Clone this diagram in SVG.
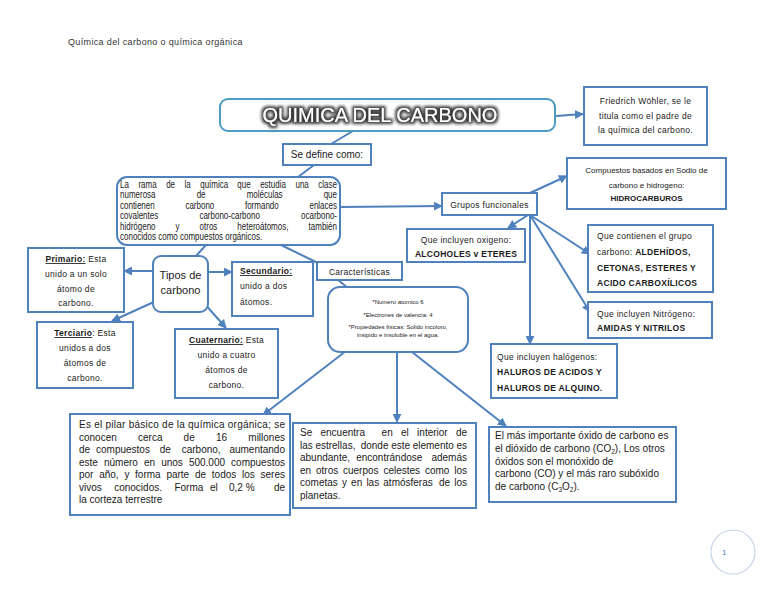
<svg xmlns="http://www.w3.org/2000/svg" width="768" height="594" viewBox="0 0 768 594">
<defs>
<marker id="ah" viewBox="0 0 10 10" refX="9" refY="5" markerWidth="4.5" markerHeight="4.5" orient="auto"><path d="M0,0L10,5L0,10z" fill="#4f81bd"/></marker>
<filter id="glow" x="-10%" y="-50%" width="120%" height="200%">
<feMorphology in="SourceAlpha" operator="dilate" radius="1.8" result="d"/>
<feGaussianBlur in="d" stdDeviation="1.4" result="b"/>
<feFlood flood-color="#3c3c3c"/>
<feComposite in2="b" operator="in" result="s"/>
<feMerge><feMergeNode in="s"/><feMergeNode in="SourceGraphic"/></feMerge>
</filter>
</defs>
<style>
.bx{fill:#fff;stroke:#4f81bd;stroke-width:2}
.cn{fill:none;stroke:#4f81bd;stroke-width:2}
.ar{marker-end:url(#ah)}
.a{font-family:"Liberation Sans",Arial,sans-serif;font-size:10px;fill:#1a1a1a}
.c{font-family:"Liberation Sans",Arial,sans-serif;font-size:8.5px;fill:#1a1a1a;letter-spacing:0.3px}
.m{text-anchor:middle}
.e{text-anchor:end}
.b{font-weight:bold}
.u{font-weight:bold;text-decoration:underline}
</style>
<rect width="768" height="594" fill="#fff"/>
<text x="68" y="45" class="a" style="font-size:9px;fill:#333;letter-spacing:0.35px">Química del carbono o química orgánica</text>

<g id="connectors">
<line class="cn ar" x1="556" y1="116" x2="583" y2="114"/>
<line class="cn" x1="353" y1="131" x2="331" y2="144"/>
<line class="cn" x1="314" y1="165" x2="298" y2="177"/>
<line class="cn ar" x1="341" y1="207" x2="442" y2="206"/>
<line class="cn ar" x1="530" y1="193" x2="567" y2="176"/>
<line class="cn ar" x1="528" y1="215" x2="508" y2="228"/>
<line class="cn ar" x1="530" y1="215" x2="590" y2="254"/>
<line class="cn ar" x1="530" y1="215" x2="590" y2="312"/>
<line class="cn ar" x1="530" y1="215" x2="530" y2="344"/>
<line class="cn" x1="206" y1="245" x2="196" y2="256"/>
<line class="cn ar" x1="153" y1="271" x2="124" y2="271"/>
<line class="cn ar" x1="208" y1="272" x2="232" y2="272"/>
<line class="cn ar" x1="156" y1="301" x2="112" y2="321"/>
<line class="cn ar" x1="204" y1="303" x2="226" y2="328"/>
<line class="cn" x1="281" y1="245" x2="320" y2="264"/>
<line class="cn" x1="338" y1="280" x2="348" y2="288"/>
<line class="cn ar" x1="346" y1="351" x2="263" y2="415"/>
<line class="cn ar" x1="397" y1="352" x2="397" y2="422"/>
<line class="cn ar" x1="412" y1="352" x2="506" y2="426"/>
</g>

<g id="titulo">
<rect x="220" y="99" width="335" height="32" rx="8" fill="#fff" stroke="#4a9cc0" stroke-width="2"/>
<text x="380" y="122" class="m" filter="url(#glow)" style="font-family:'Liberation Sans',Arial,sans-serif;font-size:20px;fill:#fff">QUIMICA DEL CARBONO</text>
</g>

<g id="wohler">
<rect class="bx" x="584" y="87" width="123" height="58"/>
<text class="c m" x="645.5" y="104">Friedrich Wöhler, se le</text>
<text class="c m" x="645.5" y="118.5">titula como el padre de</text>
<text class="c m" x="645.5" y="133">la química del carbono.</text>
</g>

<g id="se-define">
<rect class="bx" x="283" y="144" width="88" height="21"/>
<text class="a m" x="327" y="158">Se define como:</text>
</g>

<g id="definicion">
<rect class="bx" x="117" y="177" width="223" height="68" rx="10"/>
<g transform="matrix(0.8 0 0 1 120 0)" class="a">
<text y="188"><tspan x="0">La</tspan><tspan x="23">rama</tspan><tspan x="57.7">de</tspan><tspan x="80.7">la</tspan><tspan x="100.3">química</tspan><tspan x="146.6">que</tspan><tspan x="175.2">estudia</tspan><tspan x="219.3">una</tspan><tspan x="271.25" text-anchor="end">clase</tspan></text>
<text y="198.5"><tspan x="0">numerosa</tspan><tspan x="95.8">de</tspan><tspan x="158.3">moléculas</tspan><tspan x="271.25" text-anchor="end">que</tspan></text>
<text y="209"><tspan x="0">contienen</tspan><tspan x="81.8">carbono</tspan><tspan x="156.2">formando</tspan><tspan x="271.25" text-anchor="end">enlaces</tspan></text>
<text y="219.5"><tspan x="0">covalentes</tspan><tspan x="99.3">carbono-carbono</tspan><tspan x="271.25" text-anchor="end">ocarbono-</tspan></text>
<text y="230"><tspan x="0">hidrógeno</tspan><tspan x="69.5">y</tspan><tspan x="99.5">otros</tspan><tspan x="146.7">heteroátomos,</tspan><tspan x="271.25" text-anchor="end">también</tspan></text>
<text y="240.5" x="0">conocidos como compuestos orgánicos.</text>
</g>
</g>

<g id="grupos">
<rect class="bx" x="442" y="193" width="95" height="22"/>
<text class="c m" x="489.5" y="207.5">Grupos funcionales</text>
</g>

<g id="hidrocarburos">
<rect class="bx" x="567" y="158" width="159" height="51"/>
<text class="c m" x="646.5" y="173" style="font-size:8px;letter-spacing:0">Compuestos basados en Sodio de</text>
<text class="c m" x="646.5" y="187.5" style="font-size:8px;letter-spacing:0">carbono e hidrogeno:</text>
<text class="c m b" x="646.5" y="201" style="font-size:8px;letter-spacing:0">HIDROCARBUROS</text>
</g>

<g id="oxigeno">
<rect class="bx" x="407" y="229" width="118" height="33"/>
<text class="c m" x="466" y="243">Que incluyen oxigeno:</text>
<text class="c m b" x="466" y="257">ALCOHOLES  v ETERES</text>
</g>

<g id="carbonilo">
<rect class="bx" x="588" y="225" width="125" height="67"/>
<text class="c" x="597" y="239">Que contienen el grupo</text>
<text class="c" x="597" y="255">carbono: <tspan class="b">ALDEHÍDOS,</tspan></text>
<text class="c b" x="597" y="271">CETONAS, ESTERES Y</text>
<text class="c b" x="597" y="286">ACIDO CARBOXÍLICOS</text>
</g>

<g id="nitrogeno">
<rect class="bx" x="588" y="302" width="124" height="36"/>
<text class="c" x="597" y="317">Que incluyen Nitrógeno:</text>
<text class="c b" x="597" y="331">AMIDAS Y NITRILOS</text>
</g>

<g id="halogenos">
<rect class="bx" x="491" y="344" width="126" height="54"/>
<text class="c" x="497" y="360">Que incluyen halógenos:</text>
<text class="c b" x="497" y="375">HALUROS DE ACIDOS Y</text>
<text class="c b" x="497" y="391">HALUROS DE ALQUINO.</text>
</g>

<g id="tipos">
<rect class="bx" x="153" y="256" width="55" height="56" rx="8"/>
<text class="a m" x="180.5" y="279" style="font-size:11px">Tipos de</text>
<text class="a m" x="180.5" y="294" style="font-size:11px">carbono</text>
</g>

<g id="primario">
<rect class="bx" x="28" y="248" width="96" height="64"/>
<text class="c m" x="76" y="262"><tspan class="u">Primario:</tspan> Esta</text>
<text class="c m" x="76" y="277">unido a un solo</text>
<text class="c m" x="76" y="292">átomo de</text>
<text class="c m" x="76" y="306">carbono.</text>
</g>

<g id="secundario">
<rect class="bx" x="232" y="262" width="81" height="54"/>
<text class="c" x="240" y="274"><tspan class="u">Secundario:</tspan></text>
<text class="c" x="240" y="289">unido a dos</text>
<text class="c" x="240" y="305">átomos.</text>
</g>

<g id="terciario">
<rect class="bx" x="37" y="322" width="96" height="66"/>
<text class="c m" x="85" y="336"><tspan class="u">Terciario</tspan>: Esta</text>
<text class="c m" x="85" y="351">unidos a dos</text>
<text class="c m" x="85" y="366">átomos de</text>
<text class="c m" x="85" y="381">carbono.</text>
</g>

<g id="cuaternario">
<rect class="bx" x="175" y="329" width="103" height="69"/>
<text class="c m" x="226.5" y="343"><tspan class="u">Cuaternario:</tspan> Esta</text>
<text class="c m" x="226.5" y="358">unido a cuatro</text>
<text class="c m" x="226.5" y="373">átomos de</text>
<text class="c m" x="226.5" y="388">carbono.</text>
</g>

<g id="caracteristicas">
<rect class="bx" x="317" y="262" width="85" height="18"/>
<text class="c m" x="359.5" y="275">Características</text>
</g>

<g id="propiedades">
<rect class="bx" x="328" y="287" width="140" height="65" rx="12"/>
<text class="a m" x="398" y="304" style="font-size:6px">*Numero atomico 6</text>
<text class="a m" x="398" y="317" style="font-size:6px">*Electrones de valencia: 4</text>
<text class="a m" x="398" y="329" style="font-size:6px">*Propiedades físicas: Solido incoloro,</text>
<text class="a m" x="398" y="337" style="font-size:6px">insipido e insoluble en el agua.</text>
</g>

<g id="pilar">
<rect class="bx" x="70" y="414" width="220" height="101"/>
<text class="a" x="79" y="428" textLength="206" lengthAdjust="spacing">Es el pilar básico de la química orgánica; se</text>
<text class="a" y="440.5"><tspan x="79">conocen</tspan><tspan x="138">cerca</tspan><tspan x="183.6">de</tspan><tspan x="215.9">16</tspan><tspan x="285" text-anchor="end">millones</tspan></text>
<text class="a" y="453"><tspan x="79">de</tspan><tspan x="96">compuestos</tspan><tspan x="159.7">de</tspan><tspan x="181.7">carbono,</tspan><tspan x="285" text-anchor="end">aumentando</tspan></text>
<text class="a" y="465.5"><tspan x="79">este</tspan><tspan x="104">número</tspan><tspan x="144">en</tspan><tspan x="161.2">unos</tspan><tspan x="188.9">500.000</tspan><tspan x="285" text-anchor="end">compuestos</tspan></text>
<text class="a" y="478"><tspan x="79">por</tspan><tspan x="99.2">año,</tspan><tspan x="124.4">y</tspan><tspan x="135.1">forma</tspan><tspan x="166.4">parte</tspan><tspan x="195">de</tspan><tspan x="211.8">todos</tspan><tspan x="242">los</tspan><tspan x="285" text-anchor="end">seres</tspan></text>
<text class="a" y="490.5"><tspan x="79">vivos</tspan><tspan x="114.2">conocidos.</tspan><tspan x="174.4">Forma</tspan><tspan x="210">el</tspan><tspan x="229">0,2 %</tspan><tspan x="285" text-anchor="end">de</tspan></text>
<text class="a" x="79" y="503">la corteza terrestre</text>
</g>

<g id="estrellas">
<rect class="bx" x="293" y="423" width="183" height="85"/>
<text class="a" y="436"><tspan x="300">Se</tspan><tspan x="320.5">encuentra</tspan><tspan x="381.6">en</tspan><tspan x="401">el</tspan><tspan x="417.1">interior</tspan><tspan x="467" text-anchor="end">de</tspan></text>
<text class="a" y="448.5"><tspan x="300">las</tspan><tspan x="315.4">estrellas,</tspan><tspan x="360.7">donde</tspan><tspan x="391.2">este</tspan><tspan x="412.7">elemento</tspan><tspan x="467" text-anchor="end">es</tspan></text>
<text class="a" y="461"><tspan x="300">abundante,</tspan><tspan x="356.2">encontrándose</tspan><tspan x="467" text-anchor="end">además</tspan></text>
<text class="a" y="473.5"><tspan x="300">en</tspan><tspan x="316">otros</tspan><tspan x="343">cuerpos</tspan><tspan x="383.4">celestes</tspan><tspan x="424.9">como</tspan><tspan x="467" text-anchor="end">los</tspan></text>
<text class="a" y="486"><tspan x="300">cometas</tspan><tspan x="342">y</tspan><tspan x="351.1">en</tspan><tspan x="366.4">las</tspan><tspan x="383.3">atmósferas</tspan><tspan x="439">de</tspan><tspan x="467" text-anchor="end">los</tspan></text>
<text class="a" x="300" y="498.5">planetas.</text>
</g>

<g id="oxidos">
<rect class="bx" x="489" y="427" width="187" height="75"/>
<text class="a" x="495" y="439">El más importante óxido de carbono es</text>
<text class="a" x="495" y="451.8">el dióxido de carbono (CO<tspan font-size="6.5" dy="2">2</tspan><tspan dy="-2">), Los otros</tspan></text>
<text class="a" x="495" y="464.6">óxidos son el monóxido de</text>
<text class="a" x="495" y="477.4">carbono (CO) y el más raro subóxido</text>
<text class="a" x="495" y="490.2">de carbono (C<tspan font-size="6.5" dy="2">3</tspan><tspan dy="-2">O</tspan><tspan font-size="6.5" dy="2">2</tspan><tspan dy="-2">).</tspan></text>
</g>

<g id="pagina">
<circle cx="733" cy="552" r="22" fill="none" stroke="#c5d3e8" stroke-width="1.2"/>
<text x="722" y="555" class="a" style="font-size:8px;fill:#4f81bd">1</text>
</g>
</svg>
